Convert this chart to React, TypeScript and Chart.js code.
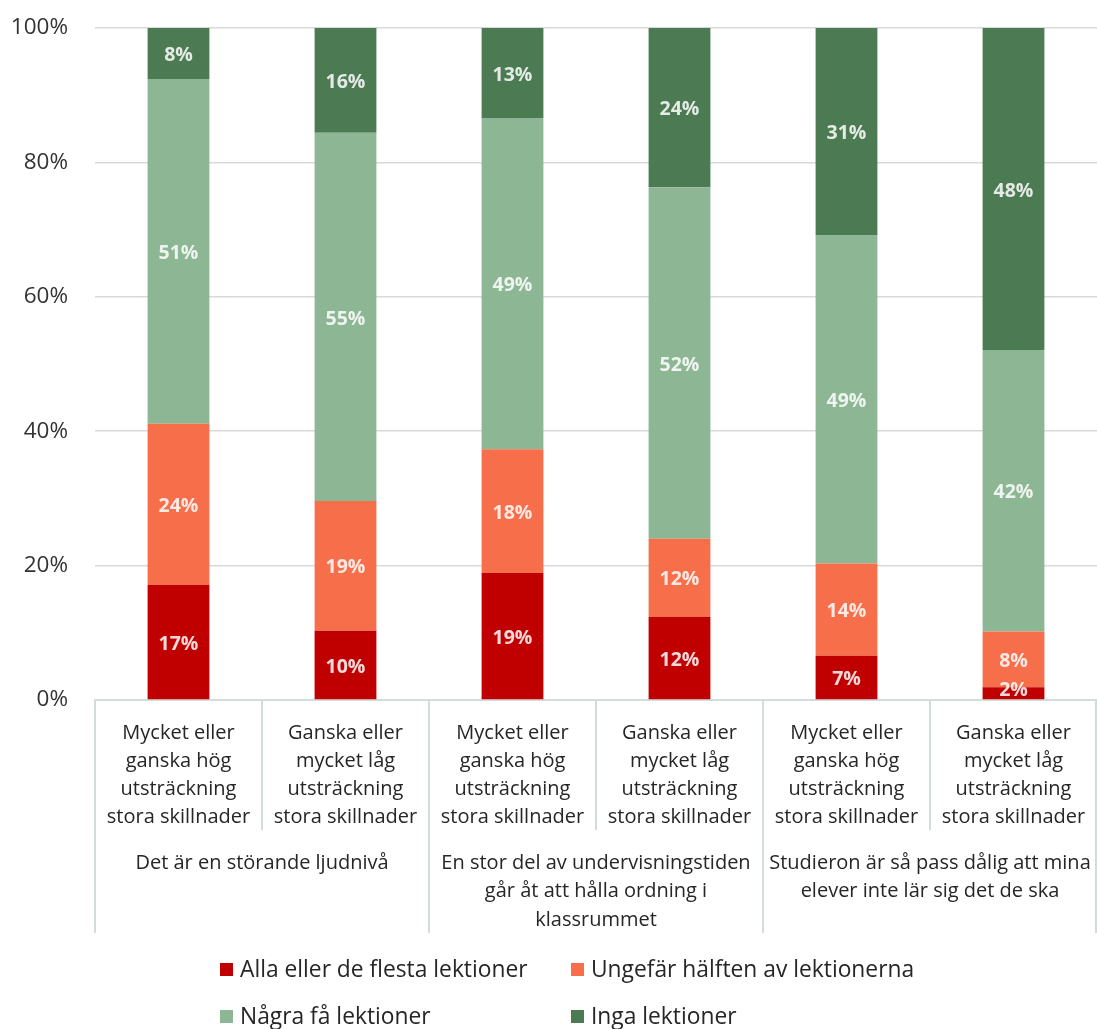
import React, { useEffect, useRef } from "react";
import { Chart, registerables } from "chart.js";

Chart.register(...registerables);

const categoryLabels: string[][] = [
  ["Mycket eller", "ganska hög", "utsträckning", "stora skillnader"],
  ["Ganska eller", "mycket låg", "utsträckning", "stora skillnader"],
  ["Mycket eller", "ganska hög", "utsträckning", "stora skillnader"],
  ["Ganska eller", "mycket låg", "utsträckning", "stora skillnader"],
  ["Mycket eller", "ganska hög", "utsträckning", "stora skillnader"],
  ["Ganska eller", "mycket låg", "utsträckning", "stora skillnader"],
];
const groupLabels: string[][] = [
  ["Det är en störande ljudnivå"],
  ["En stor del av undervisningstiden", "går åt att hålla ordning i", "klassrummet"],
  ["Studieron är så pass dålig att mina", "elever inte lär sig det de ska"],
];
const seriesNames = [
  "Alla eller de flesta lektioner",
  "Ungefär hälften av lektionerna",
  "Några få lektioner",
  "Inga lektioner",
];
const seriesColors = ["#C00000", "#F76E4A", "#8DB794", "#4B7A53"];
const allaValues = [17.1, 10.3, 18.9, 12.4, 6.6, 1.9];
const halftenValues = [24.0, 19.3, 18.4, 11.6, 13.7, 8.3];
const nagraValues = [51.3, 54.8, 49.3, 52.3, 48.9, 41.9];
const ingaValues = [7.6, 15.6, 13.4, 23.7, 30.8, 47.9];
const yTicks = [0, 20, 40, 60, 80, 100];

const FONT = "'Open Sans', 'Noto Sans', sans-serif";
const LINE_COLOR = "#D3DCDC";

const overlayPlugin = {
  id: "overlay",
  afterDatasetsDraw(chart: any) {
    const ctx = chart.ctx;
    ctx.save();
    ctx.font = `bold 19.5px ${FONT}`;
    ctx.fillStyle = "rgba(255,255,255,0.85)";
    ctx.textAlign = "center";
    ctx.textBaseline = "middle";
    chart.data.datasets.forEach((ds: any, di: number) => {
      const meta = chart.getDatasetMeta(di);
      meta.data.forEach((bar: any, i: number) => {
        const v = ds.data[i];
        let y = (bar.y + bar.base) / 2 + 2;
        const h = Math.abs(bar.base - bar.y);
        if (h < 20) y = bar.base - 9;
        ctx.fillText(Math.round(v) + "%", bar.x, y);
      });
    });
    ctx.restore();
  },
  afterDraw(chart: any) {
    const ctx = chart.ctx;
    const area = chart.chartArea;
    const n = categoryLabels.length;
    const w = (area.right - area.left) / n;
    ctx.save();
    ctx.strokeStyle = LINE_COLOR;
    ctx.lineWidth = 2;
    for (let k = 0; k <= n; k++) {
      let x = Math.round(area.left + k * w);
      if (k === n) x = area.right - 1;
      const bottom = k % 2 === 0 ? area.bottom + 233 : area.bottom + 130;
      ctx.beginPath();
      ctx.moveTo(x, area.bottom);
      ctx.lineTo(x, bottom);
      ctx.stroke();
    }
    ctx.fillStyle = "#262626";
    ctx.font = `20px ${FONT}`;
    ctx.textAlign = "center";
    ctx.textBaseline = "middle";
    const xScale = chart.scales.x;
    categoryLabels.forEach((lines, i) => {
      const cx = xScale.getPixelForValue(i);
      lines.forEach((line, li) => {
        ctx.fillText(line, cx, area.bottom + 33 + li * 28);
      });
    });
    groupLabels.forEach((lines, g) => {
      const cx = area.left + (g * 2 + 1) * w;
      lines.forEach((line, li) => {
        ctx.fillText(line, cx, area.bottom + 163 + li * 28.5);
      });
    });
    const cols = [220, 571];
    const rows = [970, 1017];
    ctx.textAlign = "left";
    ctx.font = `22.8px ${FONT}`;
    seriesNames.forEach((name, i) => {
      const x = cols[i % 2];
      const y = rows[Math.floor(i / 2)];
      ctx.fillStyle = seriesColors[i];
      ctx.fillRect(x, y - 7, 13, 13);
      ctx.fillStyle = "#262626";
      ctx.fillText(name, x + 20, y + 1);
    });
    ctx.restore();
  },
};

export default function App() {
  const ref = useRef<HTMLCanvasElement | null>(null);
  useEffect(() => {
    if (!ref.current) return;
    const values = [allaValues, halftenValues, nagraValues, ingaValues];
    const chart = new Chart(ref.current, {
      type: "bar",
      data: {
        labels: categoryLabels.map((l) => l.join(" ")),
        datasets: seriesNames.map((name, i) => ({
          label: name,
          data: values[i],
          backgroundColor: seriesColors[i],
          borderWidth: 0,
          barPercentage: 0.37,
          categoryPercentage: 1,
        })),
      },
      options: {
        animation: false,
        responsive: false,
        maintainAspectRatio: false,
        layout: { padding: { top: 28, right: 0, left: 0, bottom: 0 } },
        plugins: { legend: { display: false }, tooltip: { enabled: false } },
        scales: {
          x: {
            stacked: true,
            grid: { display: false },
            ticks: { display: false },
            border: { display: true, color: LINE_COLOR, width: 2 },
            afterFit: (s: any) => {
              s.height = 329;
              s.paddingLeft = 0;
              s.paddingRight = 0;
            },
          },
          y: {
            stacked: true,
            min: 0,
            max: 100,
            afterBuildTicks: (s: any) => {
              s.ticks = yTicks.map((v) => ({ value: v }));
            },
            ticks: {
              padding: 27,
              color: "#333333",
              font: { size: 22.5, family: FONT },
              callback: (v: any) => v + "%",
            },
            grid: { color: "#D9D9D9", lineWidth: 1.5, drawTicks: false },
            border: { display: false },
            afterFit: (s: any) => {
              s.width = 95;
              s.paddingTop = 0;
              s.paddingBottom = 0;
            },
          },
        },
      },
      plugins: [overlayPlugin],
    });
    return () => chart.destroy();
  }, []);
  return (
    <div style={{ position: "fixed", left: 0, top: 0, width: 1097, height: 1029, background: "#fff" }}>
      <canvas ref={ref} width={1097} height={1029} style={{ width: 1097, height: 1029 }} />
    </div>
  );
}
